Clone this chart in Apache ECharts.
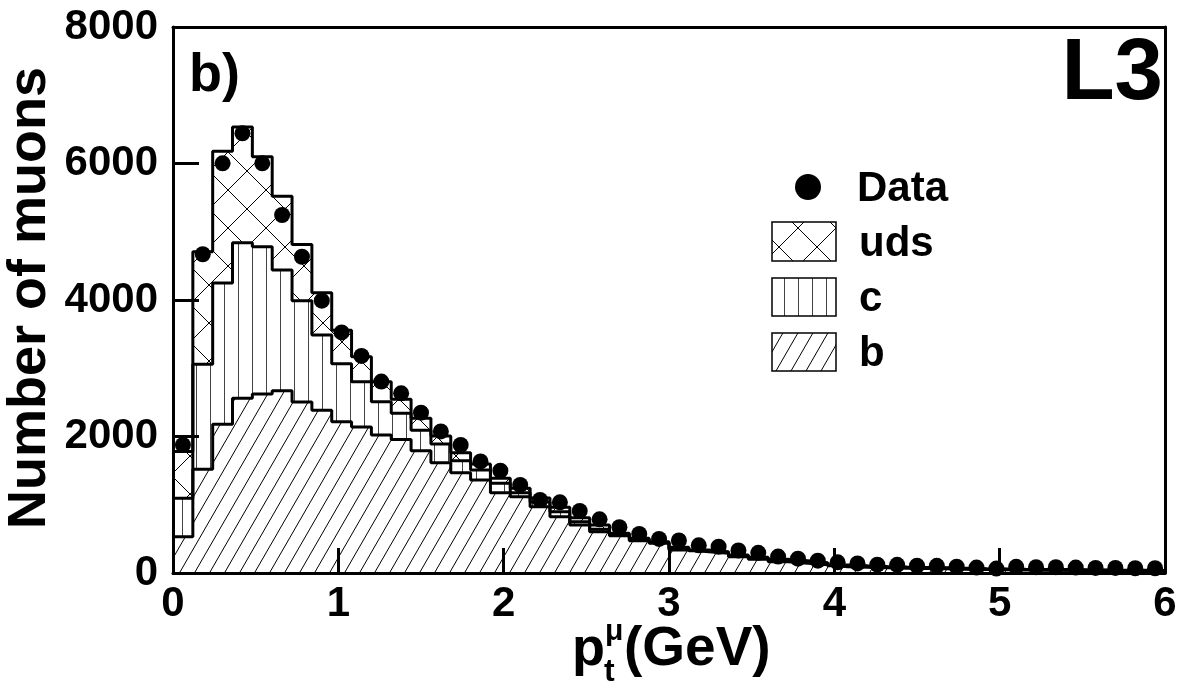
<!DOCTYPE html>
<html><head><meta charset="utf-8">
<script src="https://cdn.jsdelivr.net/npm/echarts@6/dist/echarts.min.js"></script>
<style>html,body{margin:0;padding:0;background:#fff}#c{width:1185px;height:694px}</style>
</head><body><div id="c"></div>
<script>
// ---- data (50 bins of 0.12 GeV, 0..6 GeV) ----
const binWidth = 0.12;
const xTickLabels = ['0','1','2','3','4','5','6'];
const yTickLabels = ['0','2000','4000','6000','8000'];
const dataCounts = [1875,4670,6003,6442,6003,5245,4634,3990,3525,3180,2805,2633,2349,2075,1875,1635,1500,1290,1070,1035,
  910,787,670,571,500,478,405,385,330,295,240,210,180,156,141,122,120,107,105,93,80,65,90,85,85,80,75,75,70,70];
const bCounts = [532,1519,2180,2560,2623,2671,2505,2383,2217,2140,2022,1955,1790,1616,1470,1363,1177,1118,970,825,
  703,605,547,473,435,337,312,288,239,200,166,141,122,93,84,76,70,66,61,56,51,48,45,42,40,38,36,34,32,30];
const cCounts = [562,1541,2070,2280,2158,1769,1485,1104,848,663,488,385,300,274,176,146,137,59,70,73,
  49,35,18,17,12,20,13,12,13,15,17,19,15,12,11,10,9,8,8,7,7,6,6,6,5,5,5,4,4,4];
const udsCounts = [686,1648,1930,1695,1319,1080,825,620,490,366,293,205,176,117,117,88,73,64,60,65,
  58,63,16,18,12,20,12,12,12,15,17,20,14,12,10,9,9,8,7,7,6,6,5,5,5,4,4,4,4,4];

// ---- derived stacks ----
const nBins = dataCounts.length;
const bTop = bCounts.slice();
const cTop = bCounts.map((v,i)=>v + cCounts[i]);
const totTop = cTop.map((v,i)=>v + udsCounts[i]);
function stepData(arr){
  const out = arr.map((v,i)=>[i*binWidth, v]);
  out.push([nBins*binWidth, arr[nBins-1]]);
  return out;
}
const dataPts = dataCounts.map((v,i)=>[(i+0.5)*binWidth, v]);

// ---- hatch patterns ----
function makePattern(w,h,draw,color){
  const cv=document.createElement('canvas'); cv.width=w; cv.height=h;
  const g=cv.getContext('2d'); g.fillStyle='#fff'; g.fillRect(0,0,w,h);
  g.strokeStyle=color||'#000'; g.lineWidth=1; draw(g,w,h);
  return {image:cv, repeat:'repeat'};
}
const crossPat = makePattern(38,38,(g,w,h)=>{
  for(const o of [-w,0,w]){
    g.beginPath(); g.moveTo(o-2,-2); g.lineTo(o+w+2,h+2); g.stroke();
    g.beginPath(); g.moveTo(o-2,h+2); g.lineTo(o+w+2,-2); g.stroke();
  }
});
const vertPat = makePattern(14,14,(g,w,h)=>{
  g.beginPath(); g.moveTo(0.5,0); g.lineTo(0.5,h); g.stroke();
},'#444');
const diagPat = makePattern(15,26,(g,w,h)=>{
  for(const o of [-w,0,w]){
    g.beginPath(); g.moveTo(o-w,2*h); g.lineTo(o+2*w,-h); g.stroke();
  }
});

const FONT = "'Liberation Sans', Arial, sans-serif";

function areaSeries(arr, pat, z){
  return {type:'line', data:stepData(arr), step:'end', symbol:'none', silent:true,
    lineStyle:{width:0}, areaStyle:{color:pat, opacity:1}, z:z, animation:false};
}
function outlineSeries(arr, z){
  return {type:'line', data:stepData(arr), step:'end', symbol:'none', silent:true,
    lineStyle:{width:3, color:'#000'}, z:z, animation:false};
}

const chart = echarts.init(document.getElementById('c'), null, {renderer:'canvas'});
chart.setOption({
  animation:false,
  backgroundColor:'#fff',
  grid:{left:173, right:20, top:27, bottom:121},
  xAxis:[{
    type:'value', min:0, max:6, interval:1, z:10,
    axisLine:{show:true, onZero:false, lineStyle:{color:'#000', width:3}},
    axisTick:{show:true, inside:true, length:25, lineStyle:{color:'#000', width:3}},
    axisLabel:{show:true, margin:10, color:'#000', fontSize:42, fontWeight:'bold', fontFamily:FONT,
      formatter:(v)=>xTickLabels[Math.round(v)]},
    splitLine:{show:false}
  },{
    type:'value', position:'top', min:0, max:6, z:10,
    axisLine:{show:true, onZero:false, lineStyle:{color:'#000', width:3}},
    axisTick:{show:false}, axisLabel:{show:false}, splitLine:{show:false}
  }],
  yAxis:[{
    type:'value', min:0, max:8000, interval:2000, z:10,
    axisLine:{show:true, onZero:false, lineStyle:{color:'#000', width:3}},
    axisTick:{show:true, inside:true, length:26, lineStyle:{color:'#000', width:3}},
    axisLabel:{show:true, margin:15, color:'#000', fontSize:42, fontWeight:'bold', fontFamily:FONT,
      formatter:(v)=>yTickLabels[Math.round(v/2000)]},
    splitLine:{show:false}
  },{
    type:'value', position:'right', min:0, max:8000, z:10,
    axisLine:{show:true, onZero:false, lineStyle:{color:'#000', width:3}},
    axisTick:{show:false}, axisLabel:{show:false}, splitLine:{show:false}
  }],
  series:[
    areaSeries(totTop, crossPat, 2),
    areaSeries(cTop, vertPat, 3),
    areaSeries(bTop, diagPat, 4),
    outlineSeries(totTop, 5),
    outlineSeries(cTop, 5),
    outlineSeries(bTop, 5),
    {type:'scatter', data:dataPts, symbol:'circle', symbolSize:16, itemStyle:{color:'#000', opacity:1}, z:8, silent:true}
  ],
  graphic:[
    {type:'text', x:30, y:298, rotation:Math.PI/2, z:20,
      style:{text:'Number of muons', fill:'#000', font:"bold 54px "+FONT, align:'center', verticalAlign:'middle'}},
    {type:'text', x:572, y:650, z:20,
      style:{text:'p', fill:'#000', font:"bold 54px "+FONT, align:'left', verticalAlign:'middle'}},
    {type:'text', x:605, y:632, z:20,
      style:{text:'μ', fill:'#000', font:"bold 30px "+FONT, align:'left', verticalAlign:'middle'}},
    {type:'text', x:604, y:672, z:20,
      style:{text:'t', fill:'#000', font:"bold 32px "+FONT, align:'left', verticalAlign:'middle'}},
    {type:'text', x:624, y:650, z:20,
      style:{text:'(GeV)', fill:'#000', font:"bold 55px "+FONT, align:'left', verticalAlign:'middle'}},
    {type:'text', x:189, y:76, z:20,
      style:{text:'b)', fill:'#000', font:"bold 54px "+FONT, align:'left', verticalAlign:'middle'}},
    {type:'text', x:1163, y:75, z:20,
      style:{text:'L3', fill:'#000', font:"bold 87px "+FONT, align:'right', verticalAlign:'middle'}},
    // legend
    {type:'circle', shape:{cx:808, cy:187, r:13}, style:{fill:'#000'}, z:20},
    {type:'rect', shape:{x:772, y:222, width:64, height:39}, style:{fill:crossPat, stroke:'#000', lineWidth:1.5}, z:20},
    {type:'rect', shape:{x:772, y:278, width:64, height:38}, style:{fill:vertPat, stroke:'#000', lineWidth:1.5}, z:20},
    {type:'rect', shape:{x:772, y:333, width:64, height:38}, style:{fill:diagPat, stroke:'#000', lineWidth:1.5}, z:20},
    {type:'text', x:857, y:189, z:20, style:{text:'Data', fill:'#000', font:"bold 42px "+FONT, align:'left', verticalAlign:'middle'}},
    {type:'text', x:859, y:244, z:20, style:{text:'uds', fill:'#000', font:"bold 42px "+FONT, align:'left', verticalAlign:'middle'}},
    {type:'text', x:859, y:299, z:20, style:{text:'c', fill:'#000', font:"bold 42px "+FONT, align:'left', verticalAlign:'middle'}},
    {type:'text', x:859, y:354, z:20, style:{text:'b', fill:'#000', font:"bold 42px "+FONT, align:'left', verticalAlign:'middle'}}
  ]
});
</script>
</body></html>
